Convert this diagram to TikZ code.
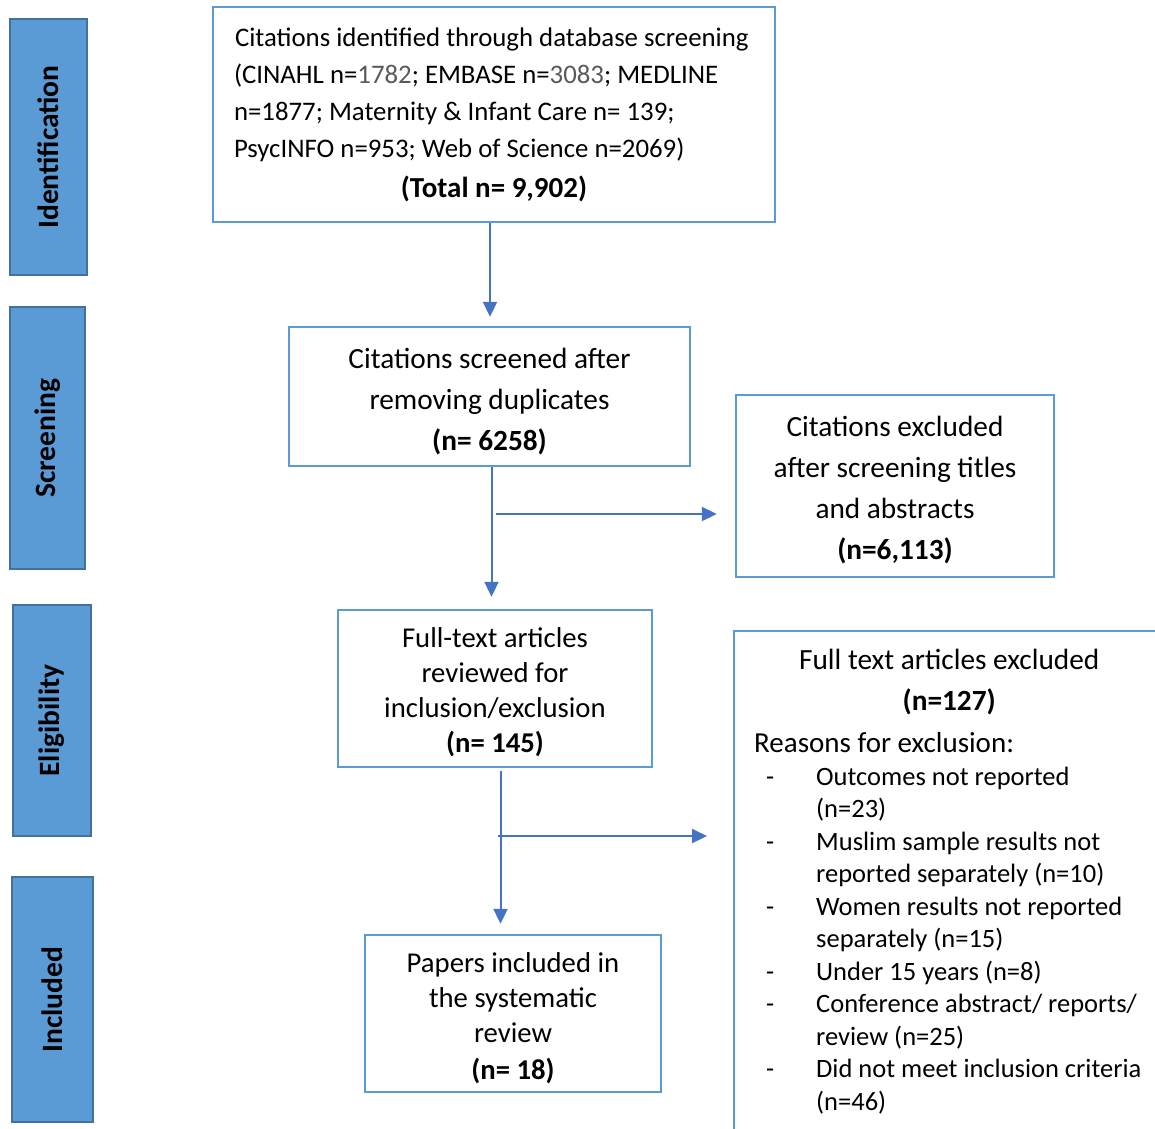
\documentclass[tikz,border=0pt]{standalone}
\usepackage{fontspec}
\setmainfont{Carlito}
\usetikzlibrary{arrows.meta}
\pgfdeclarelayer{edgelayer}
\pgfdeclarelayer{nodelayer}
\pgfsetlayers{edgelayer,nodelayer,main}
\definecolor{boxblue}{HTML}{5B9BD5}
\definecolor{barline}{HTML}{41719C}
\definecolor{arrowblue}{HTML}{4472C4}
\definecolor{numgrey}{HTML}{595959}
\tikzstyle{stage}=[rectangle, rotate=90, fill=boxblue, draw=barline, line width=2.5pt, inner sep=0pt, font=\fontsize{29.5}{34}\selectfont\bfseries]
\tikzstyle{box}=[rectangle, fill=white, draw=boxblue, line width=2.4pt]
\tikzstyle{flow}=[draw=arrowblue, line width=2pt, -{Triangle[length=15pt,width=14pt]}]

\begin{document}
\begin{tikzpicture}[x=1pt, y=-1pt]
				\clip (0,0) rectangle (1155,1128);
				\begin{pgfonlayer}{nodelayer}
					% stage bars
					\node [style=stage, minimum width=256pt, minimum height=77pt] (ident) at (48.5, 147) {Identification};
					\node [style=stage, minimum width=262pt, minimum height=75pt] (screen) at (47.5, 438) {Screening};
					\node [style=stage, minimum width=231pt, minimum height=78pt] (elig) at (52, 720.5) {Eligibility};
					\node [style=stage, minimum width=245pt, minimum height=81pt] (incl) at (52.5, 999.5) {Included};
					% flow boxes
					\node [style=box, minimum width=562pt, minimum height=215pt, text width=520pt, inner sep=0pt, align=flush left, font=\fontsize{26.8}{37}\selectfont] (identified) at (494, 114.5) {\hspace*{1pt}Citations identified through database screening\\(CINAHL n=\textcolor{numgrey}{1782}; EMBASE n=\textcolor{numgrey}{3083}; MEDLINE\\n=1877; Maternity \& Infant Care n= 139;\\PsycINFO n=953; Web of Science n=2069)\\[3pt]\makebox[520pt]{\fontsize{29}{37}\selectfont\bfseries (Total n= 9,902)}};
					\node [style=box, minimum width=401pt, minimum height=139pt, align=center, font=\fontsize{29.3}{41}\selectfont] (screened) at (489.5, 396.5) {\rule{0pt}{30pt}Citations screened after\\removing duplicates\\\textbf{(n= 6258)}};
					\node [style=box, minimum width=318pt, minimum height=182pt, align=center, font=\fontsize{29.3}{41}\selectfont] (excluded) at (895, 486) {\rule{0pt}{28pt}Citations excluded\\after screening titles\\and abstracts\\\textbf{(n=6,113)}};
					\node [style=box, minimum width=314pt, minimum height=157pt, align=center, font=\fontsize{28.7}{35}\selectfont] (fulltext) at (495, 688.5) {\rule{0pt}{27pt}Full-text articles\\reviewed for\\inclusion/exclusion\\\textbf{(n= 145)}};
					\node [style=box, anchor=north west, text width=390pt, inner xsep=20pt, inner ysep=18pt, align=flush left] (ftexcl) at (733, 630) {{\centering\fontsize{29.3}{41}\selectfont Full text articles excluded\\\textbf{(n=127)}\par}{\fontsize{29}{42}\selectfont Reasons for exclusion:\par}{\fontsize{26.5}{32.5}\selectfont
						\makebox[62pt][l]{\hspace*{12pt}-}Outcomes not reported\\\hspace*{62pt}(n=23)\\
						\makebox[62pt][l]{\hspace*{12pt}-}Muslim sample results not\\\hspace*{62pt}reported separately (n=10)\\
						\makebox[62pt][l]{\hspace*{12pt}-}Women results not reported\\\hspace*{62pt}separately (n=15)\\
						\makebox[62pt][l]{\hspace*{12pt}-}Under 15 years (n=8)\\
						\makebox[62pt][l]{\hspace*{12pt}-}Conference abstract/ reports/\\\hspace*{62pt}review (n=25)\\
						\makebox[62pt][l]{\hspace*{12pt}-}Did not meet inclusion criteria\\\hspace*{62pt}(n=46)\par}};
					\node [style=box, minimum width=296pt, minimum height=157pt, align=center, font=\fontsize{28.7}{35}\selectfont] (included) at (513, 1013.5) {\rule{0pt}{30pt}Papers included in\\the systematic\\review\\[2pt]\textbf{(n= 18)}};
				\end{pgfonlayer}
				\begin{pgfonlayer}{edgelayer}
					\coordinate (c0) at (490, 0);
					\coordinate (c1) at (491.5, 0);
					\coordinate (c2) at (500.5, 0);
					\coordinate (s0) at (496, 514);
					\coordinate (s1) at (498, 836);
					\coordinate (t1) at (501, 771);
					\draw [style=flow, shorten >=9pt] (identified.south -| c0) to (screened.north -| c0);
					\draw [style=flow, shorten >=12pt] (screened.south -| c1) to (fulltext.north -| c1);
					\draw [style=flow, shorten >=18pt] (s0) to (s0 -| excluded.west);
					\draw [style=flow, shorten >=10pt] (t1 -| c2) to (included.north -| c2);
					\draw [style=flow, shorten >=26pt] (s1) to (s1 -| ftexcl.west);
				\end{pgfonlayer}
			\end{tikzpicture}
\end{document}
